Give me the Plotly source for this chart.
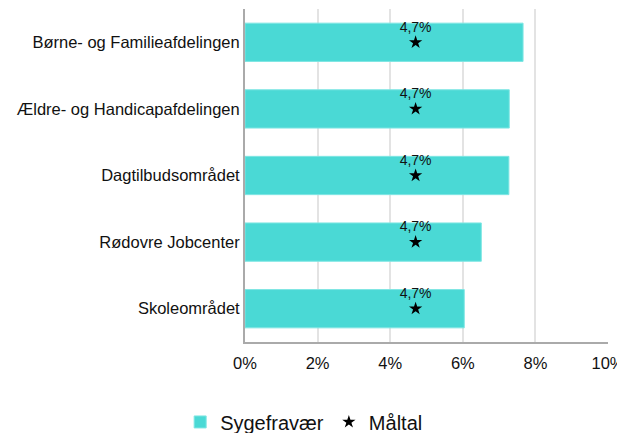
import plotly.graph_objects as go

categories = ["Børne- og Familieafdelingen", "Ældre- og Handicapafdelingen",
              "Dagtilbudsområdet", "Rødovre Jobcenter", "Skoleområdet"]
sygefravaer = [7.66, 7.28, 7.27, 6.51, 6.04]
maaltal = [4.7, 4.7, 4.7, 4.7, 4.7]
maaltal_labels = ["4,7%"] * 5
tick_vals = [0, 2, 4, 6, 8, 10]
tick_text = ["0%", "2%", "4%", "6%", "8%", "10%"]

FONT = "Liberation Sans, Arial, sans-serif"

fig = go.Figure()
fig.add_trace(go.Bar(
    y=categories, x=sygefravaer, orientation="h", name="Sygefravær",
    marker=dict(color="#4ad9d5", line=dict(color="#7fe6e3", width=1)),
    width=0.575, hoverinfo="x+y",
))
fig.add_trace(go.Scatter(
    y=categories, x=maaltal, name="Måltal", mode="markers+text",
    marker=dict(symbol="star", size=10, color="black"),
    text=maaltal_labels, textposition="top center",
    textfont=dict(family=FONT, size=14, color="#111"),
))

# page body has an 8px default margin, so the figure is sized to fit the window
fig.update_layout(
    width=617, height=425,
    margin=dict(l=237, r=17, t=1, b=91, autoexpand=False),
    paper_bgcolor="white", plot_bgcolor="white",
    font=dict(family=FONT, size=16.5, color="#111"),
    showlegend=True,
    legend=dict(orientation="h", xref="container", yref="container",
                x=0.48, xanchor="center", y=0.026, yanchor="middle",
                font=dict(size=20, family=FONT, color="#111"),
                traceorder="normal"),
)
fig.update_xaxes(range=[0, 10], tickvals=tick_vals, ticktext=tick_text,
                 showgrid=True, gridcolor="#e3e3e3", gridwidth=1.5,
                 showline=True, linecolor="#aaaaaa", linewidth=2,
                 zeroline=False, ticks="", tickfont=dict(size=16.5),
                 ticklabelstandoff=5, automargin=False)
fig.update_yaxes(autorange="reversed", showline=True,
                 linecolor="#aaaaaa", linewidth=2, ticks="",
                 tickfont=dict(size=16.5), showgrid=False, automargin=False)

fig.write_html("out.html")
